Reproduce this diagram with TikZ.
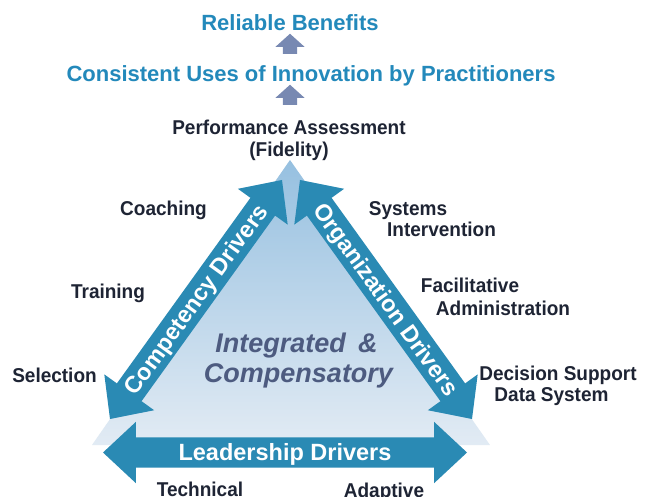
\documentclass[tikz,border=0pt]{standalone}
\usepackage{fontspec}
\setmainfont{Liberation Sans}
\newfontfamily\labelfont{Liberation Sans}[FakeStretch=0.95]
\usetikzlibrary{shapes.arrows}

\definecolor{titleblue}{RGB}{35,137,187}
\definecolor{driverblue}{RGB}{42,138,180}
\definecolor{stepgray}{RGB}{120,137,178}
\definecolor{labelink}{RGB}{30,36,52}
\definecolor{centerink}{RGB}{77,91,128}
\definecolor{apexblue}{RGB}{150,192,224}
\definecolor{midblue}{RGB}{186,210,232}
\definecolor{baseblue}{RGB}{226,235,244}

\begin{document}
\begin{tikzpicture}[x=1pt,y=-1pt,
  title/.style={font=\bfseries\fontsize{22}{24}\selectfont, text=titleblue,
    inner sep=0pt, anchor=base},
  lbl/.style={font=\labelfont\bfseries\fontsize{20}{22}\selectfont, text=labelink,
    inner sep=0pt, anchor=base},
  centertext/.style={font=\bfseries\itshape\fontsize{27}{30}\selectfont, text=centerink,
    inner sep=0pt, anchor=base},
  driver/.style={double arrow, fill=driverblue, draw=none, text=white,
    font=\bfseries\fontsize{23.5}{24}\selectfont,
    text height=18pt, text depth=2pt, inner xsep=0pt, inner ysep=5pt,
    double arrow head extend=15.5pt, double arrow tip angle=86},
  stepup/.style={single arrow, fill=stepgray, draw=none, rotate=90,
    minimum height=20pt, inner xsep=0pt, inner ysep=7pt,
    single arrow head extend=7.5pt, single arrow tip angle=96},
]
\fill[white] (0,0) rectangle (645,496);
\useasboundingbox (0,0) rectangle (645,496);

% outcome chain at the top
\node[title] (benefits) at (290,30) {Reliable Benefits};
\node[stepup] (up1) at (290,47) {};
\node[title] (uses) at (311,81) {Consistent Uses of Innovation by Practitioners};
\node[stepup] (up2) at (290,98) {};
\node[lbl] (perf) at (289,134) {Performance Assessment};
\node[lbl] (fid) at (289,156) {(Fidelity)};

% shaded triangle behind the drivers
\coordinate (apex) at (290,160);
\coordinate (baseL) at (92,445);
\coordinate (baseR) at (490,445);
\shade[top color=apexblue, middle color=midblue, bottom color=baseblue]
  (apex) -- (baseL) -- (baseR) -- cycle;

% the three driver arrows
\node[driver, rotate=54.26, minimum height=294.5pt] (comp) at (196,299.5)
  {\makebox[0pt]{Competency Drivers}};
\node[driver, rotate=-54.26, minimum height=294.5pt] (org) at (386,299.5)
  {\makebox[0pt]{Organization Drivers}};
\node[driver, minimum height=364pt] (lead) at (285,452.5) {Leadership Drivers};

% centre text
\node[centertext] (integ) at (296.5,352) {Integrated\hspace{0.45em}\&};
\node[centertext] (comps) at (298.5,382) {Compensatory};

% competency components
\node[lbl] (coach) at (163.5,215) {Coaching};
\node[lbl] (train) at (108,298) {Training};
\node[lbl] (select) at (54.5,382) {Selection};

% organization components
\node[lbl] (sys1) at (408,215) {Systems};
\node[lbl] (sys2) at (441.5,236) {Intervention};
\node[lbl] (fac1) at (470,292) {Facilitative};
\node[lbl] (fac2) at (503,315) {Administration};
\node[lbl] (dss1) at (558,380) {Decision Support};
\node[lbl] (dss2) at (551.5,401) {Data System};

% leadership components
\node[lbl] (tech) at (200,496) {Technical};
\node[lbl] (adapt) at (384,497) {Adaptive};
\end{tikzpicture}
\end{document}
